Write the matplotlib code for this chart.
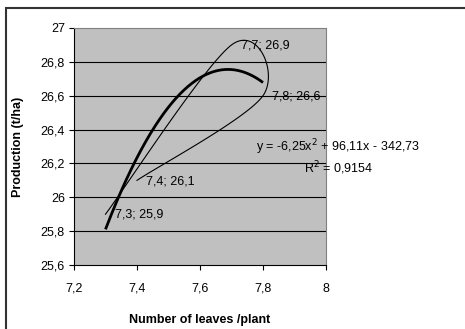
import numpy as np
import matplotlib
matplotlib.use("Agg")
import matplotlib.pyplot as plt
from matplotlib.patches import Rectangle

# Data (order as connected in the chart)
x_pts = [7.3, 7.7, 7.8, 7.4]
y_pts = [25.9, 26.9, 26.6, 26.1]
pt_labels = ["7,3; 25,9", "7,7; 26,9", "7,8; 26,6", "7,4; 26,1"]
coef = [-6.25, 96.11, -342.73]
r2_text = "0,9154"
xticks = [7.2, 7.4, 7.6, 7.8, 8.0]
xtick_labels = ["7,2", "7,4", "7,6", "7,8", "8"]
yticks = [25.6, 25.8, 26.0, 26.2, 26.4, 26.6, 26.8, 27.0]
ytick_labels = ["25,6", "25,8", "26", "26,2", "26,4", "26,6", "26,8", "27"]

plt.rcParams['font.family'] = ['Liberation Sans', 'DejaVu Sans']
FS = 9

W, H = 465, 329
fig = plt.figure(figsize=(W / 100, H / 100), dpi=100)
# plot area in pixels: x 74..326, y 28..265
ax = fig.add_axes([74 / W, 1 - 265 / H, (326 - 74) / W, (265 - 28) / H])
ax.set_facecolor('#C0C0C0')
ax.set_xlim(7.2, 8.0)
ax.set_ylim(25.6, 27.0)

for yv in yticks[1:-1]:
    ax.axhline(yv, color='black', lw=0.8, zorder=1)

# Smoothed line (Excel-style Bezier through points)
def smooth(xs, ys, n=40):
    P = np.column_stack([xs, ys]).astype(float)
    out = []
    m = len(P)
    for i in range(m - 1):
        p0 = P[i - 1] if i > 0 else P[i]
        p1 = P[i]
        p2 = P[i + 1]
        p3 = P[i + 2] if i + 2 < m else P[i + 1]
        c1 = p1 + (p2 - p0) / 6
        c2 = p2 - (p3 - p1) / 6
        t = np.linspace(0, 1, n)[:, None]
        seg = (1 - t) ** 3 * p1 + 3 * (1 - t) ** 2 * t * c1 + 3 * (1 - t) * t ** 2 * c2 + t ** 3 * p2
        out.append(seg)
    return np.vstack(out)

S = smooth(x_pts, y_pts)
ax.plot(S[:, 0], S[:, 1], color='black', lw=0.8, zorder=3)

xf = np.linspace(min(x_pts), max(x_pts), 200)
yf = np.polyval(coef, xf)
ax.plot(xf, yf, color='black', lw=2.0, zorder=4, solid_capstyle='butt')

for xv, yv, lab in zip(x_pts, y_pts, pt_labels):
    ax.annotate(lab, (xv, yv), xytext=(6.5, -0.5), textcoords='offset points',
                fontsize=FS, ha='left', va='center', zorder=5, annotation_clip=False)

ax.set_xticks(xticks)
ax.set_xticklabels(xtick_labels, fontsize=FS)
ax.set_yticks(yticks)
ax.set_yticklabels(ytick_labels, fontsize=FS)
ax.tick_params(direction='out', length=3.6, width=0.8)
ax.tick_params(axis='x', pad=9)
ax.tick_params(axis='y', pad=3)
ax.spines['left'].set_color('black')
ax.spines['bottom'].set_color('black')
ax.spines['top'].set_color('#808080')
ax.spines['right'].set_color('#808080')

fig.text(256 / W, 1 - 147 / H, "y = -6,25x$^2$ + 96,11x - 342,73", fontsize=FS,
         ha='left', va='center')
fig.text(304 / W, 1 - 168 / H, "R$^2$ = " + r2_text, fontsize=FS, ha='left', va='center')

fig.text(200 / W, 1 - 320 / H, "Number of leaves /plant", fontsize=FS, fontweight='bold',
         ha='center', va='center')
fig.text(18 / W, 1 - 147 / H, "Production (t/ha)", fontsize=FS, fontweight='bold',
         ha='center', va='center', rotation=90)

# chart border
fig.patches.append(Rectangle((6 / W, -0.1), 1.2, 1 - 8 / H + 0.1, transform=fig.transFigure,
                             fill=False, edgecolor='#333333', lw=1.5))

fig.savefig("out.png", dpi=100)
